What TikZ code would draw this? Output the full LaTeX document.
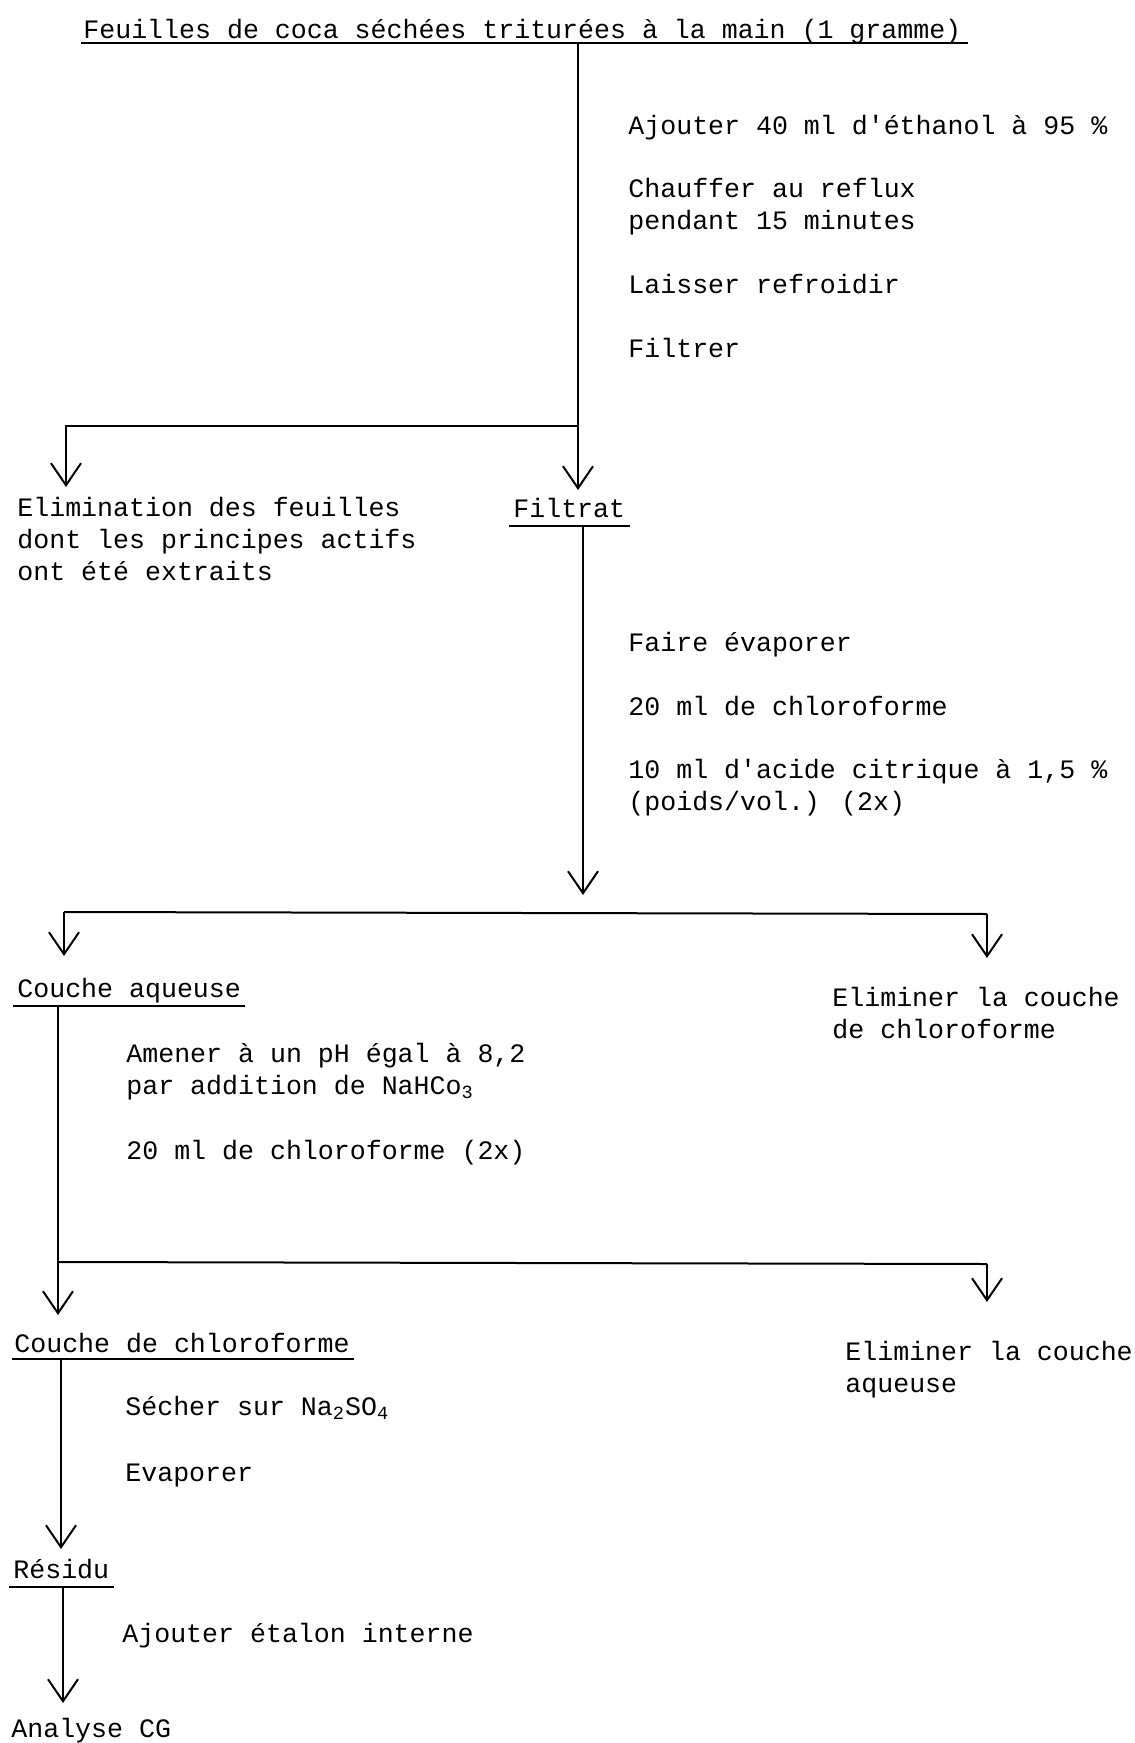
\documentclass[tikz,border=0pt]{standalone}
\usepackage{fontspec}
\setmainfont{Liberation Mono}
\usetikzlibrary{arrows.meta}
\begin{document}
\begin{tikzpicture}[x=0.5pt,y=-0.5pt,
  lbl/.style={anchor=base west, inner sep=0pt, align=left, font=\fontsize{13.3}{16}\selectfont},
  ln/.style={line width=1pt},
  ul/.style={line width=1pt},
  arr/.style={line width=1pt, -{Straight Barb[length=11pt,width=15pt]}}]
\useasboundingbox (0,0) rectangle (1134,1743);
\fill[white] (0,0) rectangle (1134,1743);

% texts (multi-line nodes are placed at the baseline of their last line)
\node[lbl] (title) at (83,39) {Feuilles de coca séchées triturées à la main (1 gramme)};
\node[lbl] (s1) at (628,135) {Ajouter 40 ml d\textquotesingle éthanol à 95 \%};
\node[lbl] (s2) at (628,230) {Chauffer au reflux\\pendant 15 minutes};
\node[lbl] (s3) at (628,294) {Laisser refroidir};
\node[lbl] (s4) at (628,358) {Filtrer};
\node[lbl] (elim) at (17,580) {Elimination des feuilles\\dont les principes actifs\\ont été extraits};
\node[lbl] (filtrat) at (513,517) {Filtrat};
\node[lbl] (s5) at (628,651) {Faire évaporer};
\node[lbl] (s6) at (628,715) {20 ml de chloroforme};
\node[lbl] (s7) at (628,810) {10 ml d\textquotesingle acide citrique à 1,5 \%\\(poids/vol.) (2x)};
\node[lbl] (aq) at (17,997) {Couche aqueuse};
\node[lbl] (elimchl) at (832,1038) {Eliminer la couche\\de chloroforme};
\node[lbl] (s8) at (126,1094) {Amener à un pH égal à 8,2\\par addition de NaHCo\textsubscript{3}};
\node[lbl] (s9) at (126,1159) {20 ml de chloroforme (2x)};
\node[lbl] (chl) at (14,1352) {Couche de chloroforme};
\node[lbl] (elimaq) at (845,1392) {Eliminer la couche\\aqueuse};
\node[lbl] (s10) at (125,1415) {Sécher sur Na\textsubscript{2}SO\textsubscript{4}};
\node[lbl] (s11) at (125,1481) {Evaporer};
\node[lbl] (res) at (13,1578) {Résidu};
\node[lbl] (s12) at (122,1642) {Ajouter étalon interne};
\node[lbl] (cg) at (11,1737) {Analyse CG};

% underlines
\draw[ul] ([xshift=-1pt,yshift=-2pt]title.base west) -- ([xshift=3pt,yshift=-2pt]title.base east);
\draw[ul] ([xshift=-2pt,yshift=-4.5pt]filtrat.base west) -- ([xshift=2pt,yshift=-4.5pt]filtrat.base east);
\draw[ul] ([xshift=-2pt,yshift=-4.5pt]aq.base west) -- ([xshift=2pt,yshift=-4.5pt]aq.base east);
\draw[ul] ([xshift=-1pt,yshift=-3.5pt]chl.base west) -- ([xshift=2pt,yshift=-3.5pt]chl.base east);
\draw[ul] ([xshift=-2pt,yshift=-4.5pt]res.base west) -- ([xshift=2pt,yshift=-4.5pt]res.base east);

% junctions and arrow ends
\coordinate (t0) at (578,43);
\coordinate (j1) at (578,426);
\coordinate (t1) at (578,490);
\coordinate (l1) at (66,426);
\coordinate (l2) at (66,487);
\coordinate (f0) at (583,526);
\coordinate (f1) at (583,895);
\coordinate (h2l) at (64,912);
\coordinate (h2l2) at (64,956);
\coordinate (h2r) at (987,914);
\coordinate (h2r2) at (987,958);
\coordinate (a0) at (58,1006);
\coordinate (j3) at (58,1262);
\coordinate (a1) at (58,1315);
\coordinate (h3r) at (987,1264);
\coordinate (h3r2) at (987,1302);
\coordinate (c0) at (61,1359);
\coordinate (c1) at (61,1549);
\coordinate (r0) at (63,1587);
\coordinate (r1) at (63,1703);

% connectors
\draw[arr] (t0) -- (j1) -- (t1);
\draw[arr] (j1) -- (l1) -- (l2);
\draw[arr] (f0) -- (f1);
\draw[ln] (h2l) -- (h2r);
\draw[arr] (h2l) -- (h2l2);
\draw[arr] (h2r) -- (h2r2);
\draw[arr] (a0) -- (j3) -- (a1);
\draw[ln] (j3) -- (h3r);
\draw[arr] (h3r) -- (h3r2);
\draw[arr] (c0) -- (c1);
\draw[arr] (r0) -- (r1);
\end{tikzpicture}
\end{document}
